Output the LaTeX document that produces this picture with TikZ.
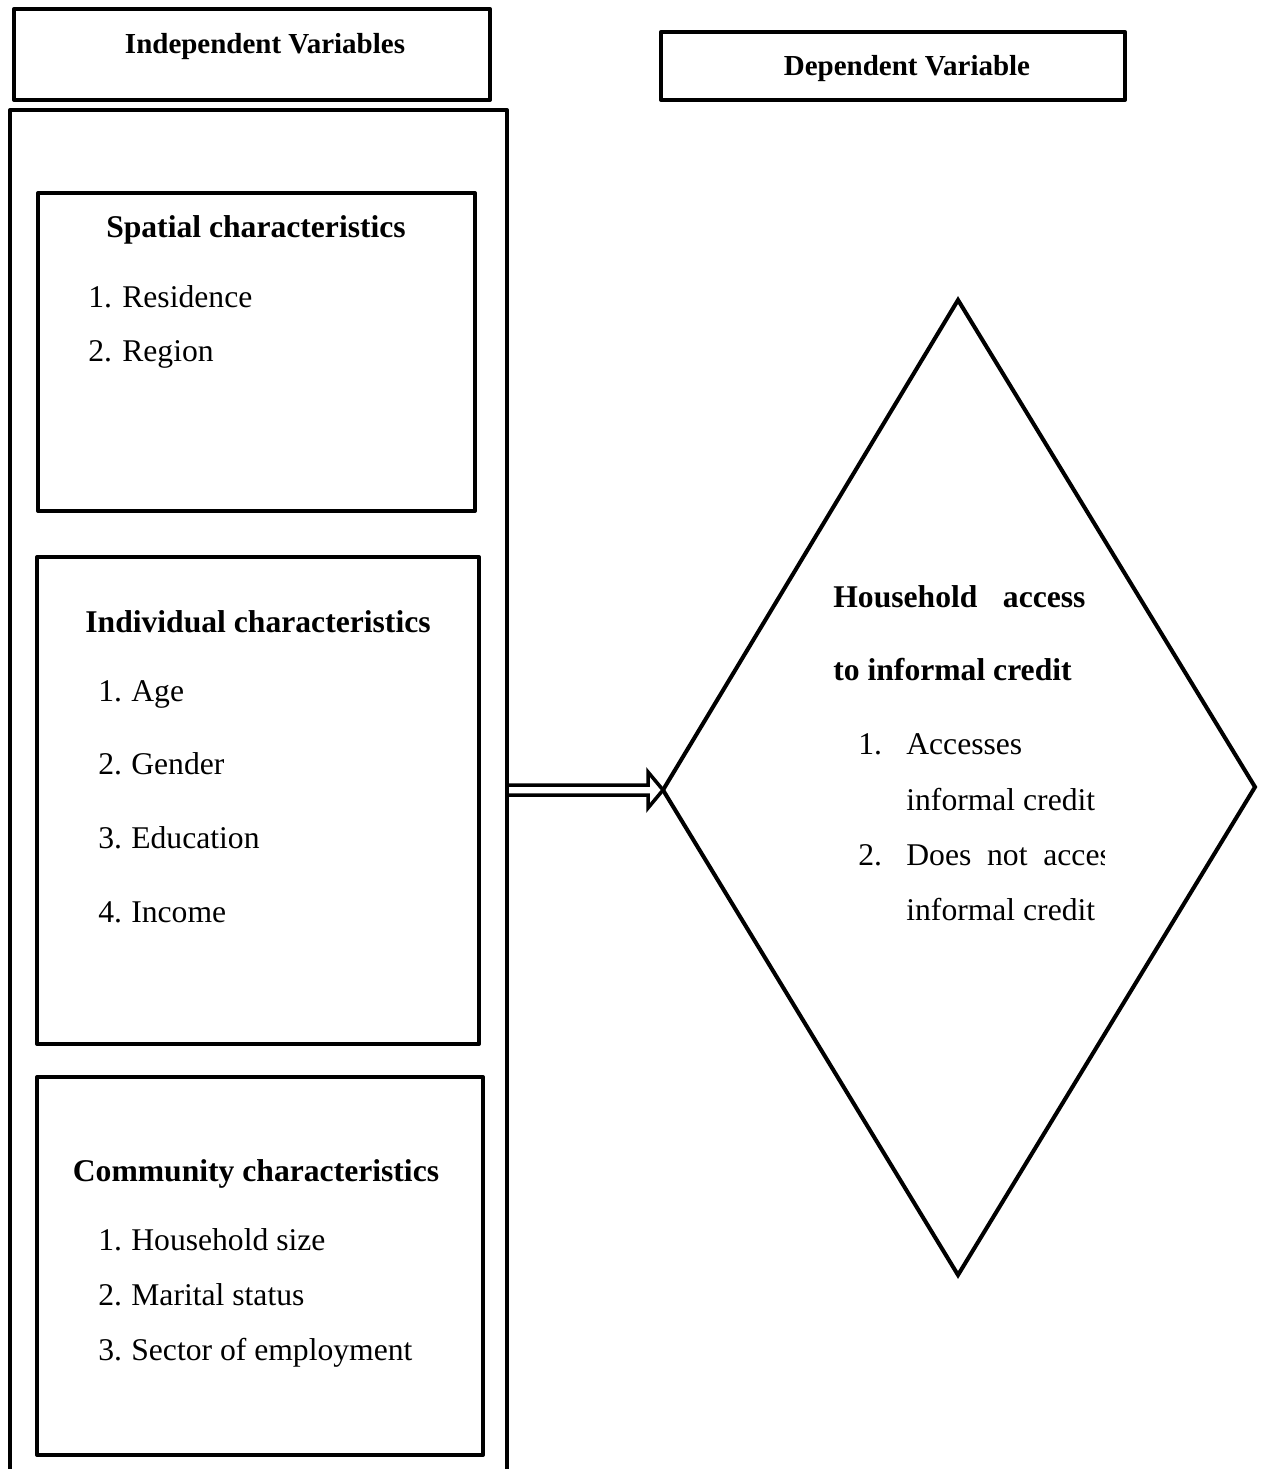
\documentclass[tikz,border=0pt]{standalone}
\usepackage{fontspec}
\setmainfont{Liberation Serif}
\begin{document}
\begin{tikzpicture}[x=0.02cm, y=-0.02cm,
	box/.style={draw, line width=2.4pt, line join=round, inner sep=0pt},
	head/.style={font=\fontsize{16.5}{20}\selectfont\bfseries, anchor=base, inner sep=0pt},
	title/.style={font=\fontsize{18}{22}\selectfont\bfseries, anchor=base, inner sep=0pt},
	item/.style={font=\fontsize{18}{22}\selectfont, anchor=base west, inner sep=0pt},
	arr/.style={draw, line width=2pt, line join=miter}]
	\useasboundingbox (0,0) rectangle (1260,1469);
	% headers
	\node[box, minimum width=9.52cm, minimum height=1.82cm] (indepbox) at (252,54.5) {};
	\node[head] (indep) at (265,54) {Independent Variables};
	\node[box, minimum width=9.28cm, minimum height=1.36cm] (depbox) at (893,66) {};
	\node[head] (dep) at (907,76) {Dependent Variable};
	% left column
	\node[box, minimum width=9.94cm, minimum height=28.2cm] (outer) at (258.5,815) {};
	\node[box, minimum width=8.74cm, minimum height=6.36cm] (spatial) at (256.5,352) {};
	\node[title] (spatialt) at (256,238) {Spatial characteristics};
	\node[item] (s1n) at (88,308) {1.};
	\node[item] (s1) at (122,308) {Residence};
	\node[item] (s2n) at (88,362) {2.};
	\node[item] (s2) at (122,362) {Region};
	\node[box, minimum width=8.84cm, minimum height=9.74cm] (indiv) at (258,800.5) {};
	\node[title] (indivt) at (258,632) {Individual characteristics};
	\node[item] (i1n) at (98,701) {1.};
	\node[item] (i1) at (131,701) {Age};
	\node[item] (i2n) at (98,774) {2.};
	\node[item] (i2) at (131,774) {Gender};
	\node[item] (i3n) at (98,848) {3.};
	\node[item] (i3) at (131,848) {Education};
	\node[item] (i4n) at (98,922) {4.};
	\node[item] (i4) at (131,922) {Income};
	\node[box, minimum width=8.92cm, minimum height=7.56cm] (commun) at (260,1266) {};
	\node[title] (communt) at (256,1181) {Community characteristics};
	\node[item] (c1n) at (98,1250) {1.};
	\node[item] (c1) at (131,1250) {Household size};
	\node[item] (c2n) at (98,1305) {2.};
	\node[item] (c2) at (131,1305) {Marital status};
	\node[item] (c3n) at (98,1360) {3.};
	\node[item] (c3) at (131,1360) {Sector of employment};
	% diamond
	\coordinate (dtop) at (958,300);
	\coordinate (dleft) at (663,790);
	\coordinate (dbottom) at (958,1275);
	\coordinate (dright) at (1255,787);
	\draw[line width=2.3pt, line join=miter] (dtop) -- (dright) -- (dbottom) -- (dleft) -- cycle;
	\node[title, anchor=base west] (dt1) at (833,607) {Household\hspace{14.5pt}access};
	\node[title, anchor=base west] (dt2) at (833,680) {to informal credit};
	\node[item] (d1n) at (858,754) {1.};
	\node[item] (d1) at (906,754) {Accesses};
	\node[item] (d1b) at (906,810) {informal credit};
	\node[item] (d2n) at (858,865) {2.};
	\begin{scope}
		\clip (900,820) rectangle (1104,885);
		\node[item] (d2) at (906,865) {Does\hspace{0.5em}not\hspace{0.5em}access};
	\end{scope}
	\node[item] (d2b) at (906,920) {informal credit};
	% arrow
	\coordinate (astart) at (outer.east |- dleft);
	\draw[arr] ([shift={(0,-5)}]astart) -- ([shift={(-15,-5)}]dleft) -- ([shift={(-15,-18)}]dleft)
		-- (dleft) -- ([shift={(-15,18)}]dleft) -- ([shift={(-15,5)}]dleft) -- ([shift={(0,5)}]astart);
\end{tikzpicture}
\end{document}
